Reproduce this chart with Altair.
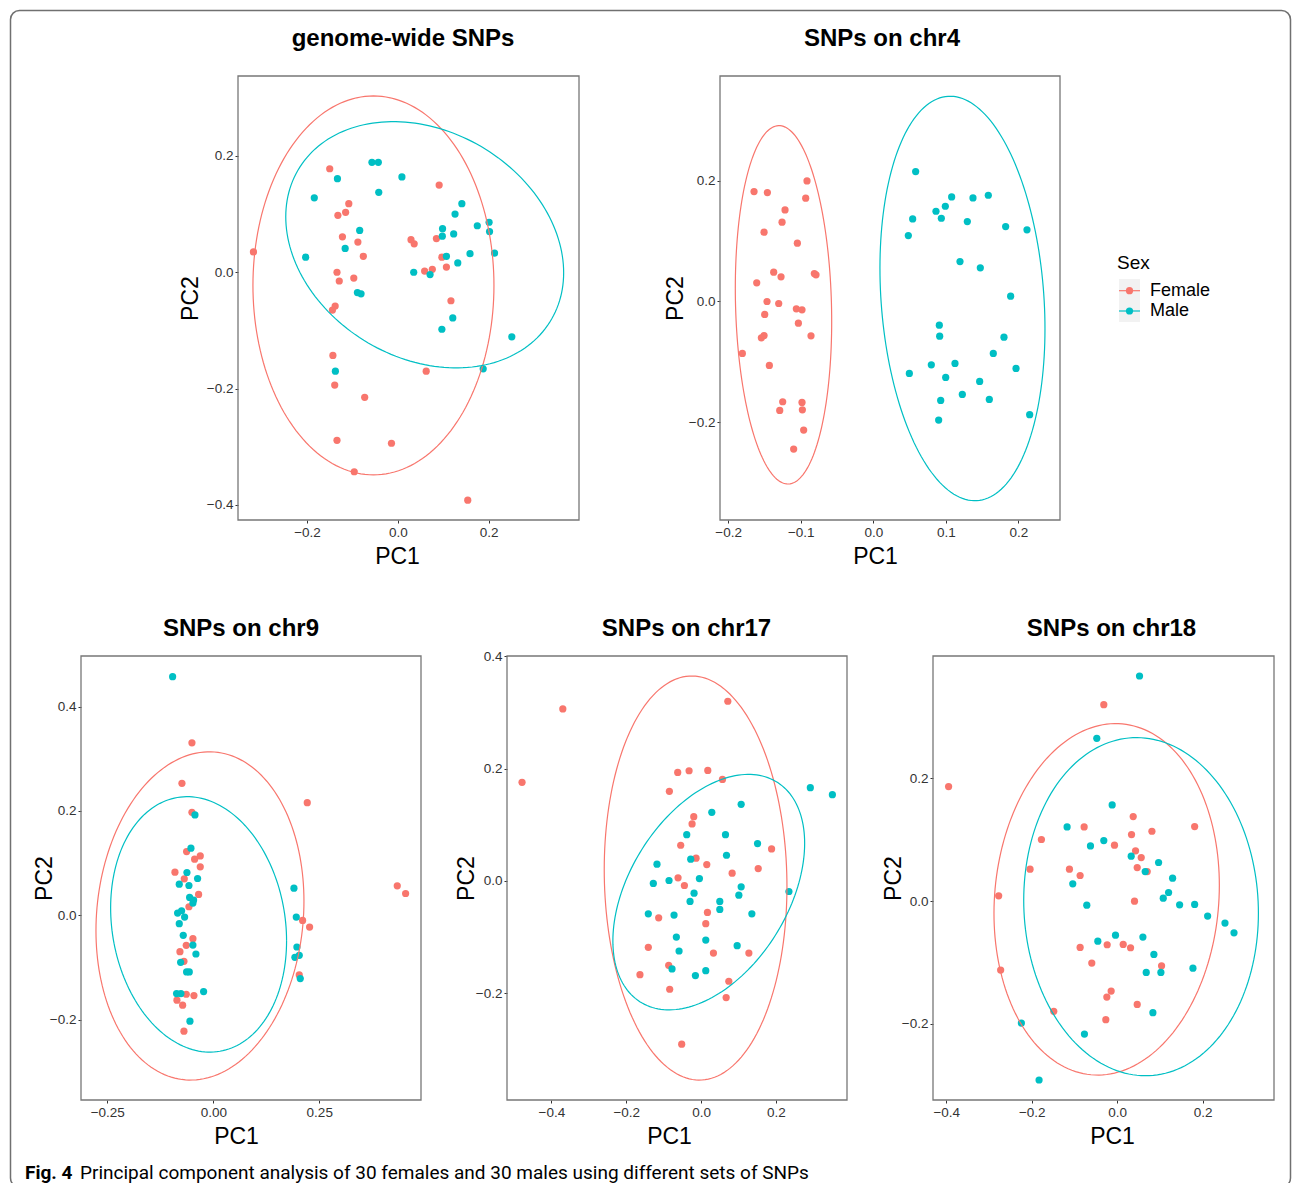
import numpy as np
import pandas as pd
import altair as alt

SEXES = ["Female", "Male"]
COLORS = ["#F8766D", "#00BFC4"]

# ---------------- genome-wide SNPs ----------------
GW_F_X = [-0.318, -0.150, -0.132, -0.115, -0.108, -0.122, -0.088, -0.076, -0.134, -0.129,
          -0.097, -0.138, -0.144, -0.143, -0.139, -0.073, -0.134, -0.014, -0.096, 0.154,
          0.029, 0.036, 0.059, 0.076, 0.085, 0.091, 0.097, 0.107, 0.117, 0.0625]
GW_F_Y = [0.035, 0.178, 0.098, 0.103, 0.118, 0.061, 0.052, 0.0275, 0.0, -0.015,
          -0.010, -0.058, -0.065, -0.143, -0.194, -0.215, -0.289, -0.294, -0.343, -0.392,
          0.056, 0.049, 0.002, 0.005, 0.058, 0.150, 0.026, 0.009, -0.049, -0.170]
GW_M_X = [-0.184, -0.133, -0.203, -0.116, -0.084, -0.089, -0.081, -0.1375, -0.057, -0.043,
          -0.042, 0.009, 0.035, 0.071, 0.0985, 0.098, 0.107, 0.123, 0.126, 0.141,
          0.132, 0.159, 0.175, 0.201, 0.202, 0.213, 0.097, 0.121, 0.251, 0.188]
GW_M_Y = [0.128, 0.161, 0.026, 0.041, 0.072, -0.035, -0.037, -0.170, 0.189, 0.189,
          0.1375, 0.164, 0.0, -0.004, 0.075, 0.062, 0.0275, 0.066, 0.100, 0.118,
          0.016, 0.032, 0.080, 0.086, 0.070, 0.033, -0.098, -0.0785, -0.111, -0.166]
# ellipse: centre x, centre y, half-width, half-height, skew
GW_ELL = {"Female": (-0.0537, -0.0226, 0.2654, 0.3258, 0.0),
          "Male": (0.0592, 0.0473, 0.306, 0.2117, -0.227)}

# ---------------- chr4 ----------------
C4_F_X = [-0.1644, -0.146, -0.0914, -0.0932, -0.1217, -0.1258, -0.1506, -0.1047, -0.1373, -0.1272,
          -0.0813, -0.0790, -0.1607, -0.1465, -0.1304, -0.1061, -0.0983, -0.1033, -0.1497, -0.1543,
          -0.1506, -0.0859, -0.1805, -0.1433, -0.1249, -0.129, -0.0983, -0.0978, -0.096, -0.1098]
C4_F_Y = [0.1823, 0.1807, 0.200, 0.1713, 0.1519, 0.1315, 0.1149, 0.0967, 0.0486, 0.0409,
          0.0464, 0.0442, 0.0309, 0.0, -0.0033, -0.0122, -0.0138, -0.0359, -0.0215, -0.0602,
          -0.0564, -0.0569, -0.0862, -0.1061, -0.1663, -0.1807, -0.1674, -0.1796, -0.2133, -0.2448]
C4_M_X = [0.0583, 0.0542, 0.0482, 0.0863, 0.0992, 0.0937, 0.1079, 0.1295, 0.1373, 0.1584,
          0.1823, 0.2117, 0.1194, 0.1474, 0.1892, 0.0909, 0.0914, 0.18, 0.1653, 0.0799,
          0.1125, 0.1966, 0.0496, 0.0997, 0.1465, 0.1226, 0.1598, 0.0928, 0.09, 0.2154]
C4_M_Y = [0.2155, 0.137, 0.1094, 0.1497, 0.158, 0.1381, 0.1735, 0.1326, 0.1718, 0.1762,
          0.1243, 0.1188, 0.0663, 0.0558, 0.0088, -0.0392, -0.0575, -0.0591, -0.0862, -0.105,
          -0.1028, -0.111, -0.1193, -0.126, -0.1326, -0.1541, -0.1624, -0.1641, -0.1967, -0.1878]
C4_ELL = {"Female": (-0.1238, -0.0055, 0.0664, 0.2972, -0.093),
          "Male": (0.1228, 0.005, 0.1137, 0.3354, -0.15)}

# ---------------- chr9 ----------------
C9_F_X = [-0.0503, -0.0739, 0.2217, -0.0503, -0.0629, -0.044, -0.0307, -0.0307, -0.0904, -0.0684,
          -0.0346, -0.0574, 0.2107, 0.2272, -0.048, -0.0637, -0.0786, -0.0692, 0.2028, -0.0637,
          -0.0456, -0.0857, -0.0723, -0.0692, 0.434, 0.4537]
C9_F_Y = [0.3306, 0.2529, 0.2159, 0.1975, 0.1223, 0.1076, 0.114, 0.093, 0.0828, 0.0701,
          0.0401, 0.0166, -0.0096, -0.0223, -0.0446, -0.0573, -0.0694, -0.0879, -0.114, -0.151,
          -0.1535, -0.1624, -0.172, -0.2217, 0.0567, 0.042]
C9_M_X = [-0.0959, -0.0432, -0.0527, -0.0621, -0.0802, -0.0574, -0.037, -0.0558, -0.0464, -0.048,
          -0.0841, -0.0747, -0.0676, -0.0802, -0.0708, -0.048, -0.0409, -0.077, -0.0629, -0.0566,
          -0.0865, -0.0763, -0.0228, -0.055, 0.1903, 0.1958, 0.1973, 0.1926, 0.2028, 0.2052]
C9_M_Y = [0.4573, 0.1924, 0.1287, 0.0822, 0.0599, 0.0573, 0.0707, 0.0344, 0.0293, 0.0236,
          0.0045, 0.0089, -0.0032, -0.0159, -0.0382, -0.0567, -0.0739, -0.0898, -0.1083, -0.1083,
          -0.1497, -0.1497, -0.1459, -0.2025, 0.0522, -0.0032, -0.0605, -0.0803, -0.0764, -0.121]
C9_ELL = {"Female": (-0.0314, -0.001, 0.2453, 0.3143, 0.09),
          "Male": (-0.0346, -0.0172, 0.2075, 0.2446, -0.129)}

# ---------------- chr17 ----------------
C17_F_X = [-0.4786, -0.3696, 0.0714, -0.0625, -0.0321, 0.0179, 0.0571, -0.0848, -0.0196, -0.0241,
           -0.0545, 0.1884, -0.0134, 0.0152, 0.083, 0.1527, -0.0616, -0.0446, 0.017, -0.1134,
           0.0125, -0.1411, 0.033, 0.1277, -0.0866, -0.1634, -0.0839, 0.0741, 0.067, -0.0518]
C17_F_Y = [0.1754, 0.3063, 0.3199, 0.1931, 0.1961, 0.1967, 0.1807, 0.1594, 0.1143, 0.1013,
           0.0634, 0.0569, 0.0403, 0.029, 0.0136, 0.0219, 0.0053, -0.0083, -0.0563, -0.0658,
           -0.0764, -0.1185, -0.1286, -0.1286, -0.1505, -0.1671, -0.1931, -0.1789, -0.2079, -0.2909]
C17_M_X = [0.292, 0.3509, 0.1071, 0.0286, -0.0384, 0.0652, 0.1509, 0.0679, -0.0277, -0.1179,
           -0.0857, -0.0045, -0.1277, 0.1071, -0.0188, 0.1009, 0.2348, -0.0295, 0.05, 0.05,
           -0.1411, -0.0723, 0.1357, -0.0661, 0.0125, -0.0589, 0.0964, -0.0777, -0.0152, 0.0125]
C17_M_Y = [0.1659, 0.1534, 0.1363, 0.122, 0.0823, 0.0823, 0.0664, 0.0456, 0.0385, 0.0296,
           0.0006, 0.0041, -0.0047, -0.0107, -0.0219, -0.0255, -0.019, -0.0367, -0.0367, -0.0509,
           -0.0587, -0.061, -0.0587, -0.1001, -0.1055, -0.125, -0.1155, -0.157, -0.1688, -0.16]
C17_ELL = {"Female": (-0.0147, 0.005, 0.2442, 0.3599, -0.042),
           "Male": (0.0205, -0.0201, 0.2563, 0.2097, 0.4146)}

# ---------------- chr18 ----------------
C18_F_X = [-0.3945, -0.0313, -0.1773, -0.2039, -0.2773, -0.2727, -0.1484, -0.0773, -0.1117, -0.0867,
           -0.0063, 0.0375, 0.0336, 0.0813, 0.1813, 0.043, 0.0563, 0.0469, 0.0703, 0.0406,
           -0.0867, -0.0234, 0.0141, 0.0313, -0.0594, 0.1039, -0.0141, -0.0242, 0.0469, -0.0266]
C18_F_Y = [0.1868, 0.3204, 0.1005, 0.0521, 0.0087, -0.1124, -0.1797, 0.1211, 0.0521, 0.0418,
           0.0912, 0.1379, 0.1086, 0.114, 0.1216, 0.082, 0.0711, 0.0548, 0.0483, 0.0,
           -0.0755, -0.0711, -0.0706, -0.076, -0.101, -0.1053, -0.1466, -0.1564, -0.1683, -0.1933]
C18_M_X = [0.0523, -0.0477, -0.0117, -0.1172, -0.0313, -0.0625, 0.0328, 0.0969, 0.0656, 0.1297,
           -0.1039, 0.1203, 0.1078, -0.0711, 0.1461, 0.1813, 0.2117, 0.2523, 0.2734, -0.0039,
           0.0602, -0.0453, 0.0859, 0.068, 0.1023, 0.1773, 0.0836, -0.2242, -0.0766, -0.1828]
C18_M_Y = [0.3671, 0.2655, 0.1569, 0.1211, 0.0988, 0.0901, 0.0733, 0.063, 0.0483, 0.0375,
           0.0282, 0.0141, 0.0049, -0.0065, -0.006, -0.0054, -0.0244, -0.0358, -0.0516, -0.0554,
           -0.0586, -0.0652, -0.0869, -0.1162, -0.1162, -0.1092, -0.1819, -0.1988, -0.2167, -0.2916]
C18_ELL = {"Female": (-0.0246, 0.003, 0.2637, 0.2865, 0.08),
           "Male": (0.0559, -0.009, 0.2746, 0.2756, -0.038)}

TITLES = ["genome-wide SNPs", "SNPs on chr4", "SNPs on chr9", "SNPs on chr17", "SNPs on chr18"]
CAPTION_BOLD = "Fig. 4"
CAPTION_TEXT = "Principal component analysis of 30 females and 30 males using different sets of SNPs"

FONT = "Liberation Sans"
W, H = 1293, 1183
color_scale = alt.Scale(domain=SEXES, range=COLORS)
one = alt.Data(values=[{"k": 0}])

# layout of the five panels on the page (pixel boxes: left, right, top, bottom)
BOXES = [(238, 579, 76, 520), (720, 1060, 76, 520),
         (81, 421, 656, 1100), (507, 847, 656, 1100), (933, 1274, 656, 1100)]
TITLE_POS = [(403, 45.7), (882, 45.7), (241, 636), (686.5, 636), (1111.5, 636)]
XTITLE_X = [397, 875, 236, 669, 1112]
YTITLE_DX = [-48, -45, -37, -41, -40]


def points_df(fx, fy, mx, my):
    return pd.DataFrame({
        "PC1": list(fx) + list(mx),
        "PC2": list(fy) + list(my),
        "Sex": ["Female"] * len(fx) + ["Male"] * len(mx),
    })


def ellipse_df(params):
    rows = []
    t = np.linspace(0, 2 * np.pi, 181)
    for sex, (cx, cy, rx, ry, s) in params.items():
        phi = np.arcsin(s)
        for i, tt in enumerate(t):
            rows.append({"PC1": cx + rx * np.cos(tt), "PC2": cy + ry * np.sin(tt + phi),
                         "Sex": sex, "i": i})
    return pd.DataFrame(rows)


def panel(k, fx, fy, mx, my, ell, xdom, ydom, xt, yt, xfmt, yfmt):
    left, right, top, bottom = BOXES[k]
    xs = alt.Scale(domain=xdom, range=[left, right], nice=False, zero=False)
    ys = alt.Scale(domain=ydom, range=[bottom, top], nice=False, zero=False)
    xax = alt.Axis(orient="bottom", offset=bottom - H, values=xt, format=xfmt, title="PC1",
                   titleX=XTITLE_X[k], titleY=36, titleBaseline="middle")
    yax = alt.Axis(orient="left", offset=-left, values=yt, format=yfmt, title="PC2",
                   titleX=YTITLE_DX[k], titleY=(top + bottom) / 2, titleBaseline="middle")
    pts = alt.Chart(points_df(fx, fy, mx, my)).mark_circle(size=52, opacity=1).encode(
        x=alt.X("PC1:Q", scale=xs, axis=xax),
        y=alt.Y("PC2:Q", scale=ys, axis=yax),
        color=alt.Color("Sex:N", scale=color_scale, legend=None),
    )
    lines = alt.Chart(ellipse_df(ell)).mark_line(strokeWidth=1.2).encode(
        x=alt.X("PC1:Q", scale=xs, axis=xax),
        y=alt.Y("PC2:Q", scale=ys, axis=yax),
        color=alt.Color("Sex:N", scale=color_scale, legend=None),
        detail="Sex:N",
        order="i:Q",
    )
    frame = alt.Chart(one).mark_rect(filled=False, stroke="#777777", strokeWidth=1.3).encode(
        x=alt.value(left), x2=alt.value(right), y=alt.value(top), y2=alt.value(bottom))
    tx, ty = TITLE_POS[k]
    title = alt.Chart(one).mark_text(font=FONT, fontSize=24, fontWeight="bold", color="black",
                                     align="center", baseline="alphabetic",
                                     text=TITLES[k]).encode(x=alt.value(tx), y=alt.value(ty))
    return alt.layer(frame, title, pts, lines)


panels = [
    panel(0, GW_F_X, GW_F_Y, GW_M_X, GW_M_Y, GW_ELL,
          [-0.352, 0.399], [-0.426, 0.3375], [-0.2, 0.0, 0.2], [-0.4, -0.2, 0.0, 0.2], ".1f", ".1f"),
    panel(1, C4_F_X, C4_F_Y, C4_M_X, C4_M_Y, C4_ELL,
          [-0.2113, 0.2572], [-0.3624, 0.374], [-0.2, -0.1, 0.0, 0.1, 0.2], [-0.2, 0.0, 0.2],
          ".1f", ".1f"),
    panel(2, C9_F_X, C9_F_Y, C9_M_X, C9_M_Y, C9_ELL,
          [-0.312, 0.49], [-0.3535, 0.4968], [-0.25, 0.0, 0.25], [-0.2, 0.0, 0.2, 0.4],
          ".2f", ".1f"),
    panel(3, C17_F_X, C17_F_Y, C17_M_X, C17_M_Y, C17_ELL,
          [-0.5188, 0.390], [-0.3904, 0.4005], [-0.4, -0.2, 0.0, 0.2], [-0.2, 0.0, 0.2, 0.4],
          ".1f", ".1f"),
    panel(4, C18_F_X, C18_F_Y, C18_M_X, C18_M_Y, C18_ELL,
          [-0.431, 0.367], [-0.3242, 0.3997], [-0.4, -0.2, 0.0, 0.2], [-0.2, 0.0, 0.2, 0.4],
          ".1f", ".1f"),
]

# ---------------- legend ----------------
leg_df = pd.DataFrame({"Sex": SEXES})
leg_y = alt.Y("Sex:N", scale=alt.Scale(type="point", domain=SEXES, range=[290.7, 311.0], padding=0),
              axis=None)
leg_bg = alt.Chart(one).mark_rect(color="#F2F2F2").encode(
    x=alt.value(1119), x2=alt.value(1140), y=alt.value(279), y2=alt.value(322))
leg_rule = alt.Chart(leg_df).mark_rule(strokeWidth=1.2).encode(
    x=alt.value(1119), x2=alt.value(1140), y=leg_y,
    color=alt.Color("Sex:N", scale=color_scale, legend=None))
leg_pt = alt.Chart(leg_df).mark_circle(size=52, opacity=1).encode(
    x=alt.value(1129.5), y=leg_y,
    color=alt.Color("Sex:N", scale=color_scale, legend=None))
leg_txt = alt.Chart(leg_df).mark_text(align="left", baseline="middle", font=FONT, fontSize=18,
                                      color="black").encode(
    x=alt.value(1150), y=leg_y, text="Sex:N")
leg_title = alt.Chart(one).mark_text(align="left", baseline="middle", font=FONT, fontSize=19,
                                     color="black", text="Sex").encode(
    x=alt.value(1117), y=alt.value(263))
legend = alt.layer(leg_bg, leg_rule, leg_pt, leg_txt, leg_title)

# ---------------- caption and figure frame ----------------
border = alt.Chart(one).mark_rect(filled=False, stroke="#707070", strokeWidth=1.5,
                                  cornerRadius=9).encode(
    x=alt.value(10.5), x2=alt.value(1290.5), y=alt.value(10.5), y2=alt.value(1187))
cap_b = alt.Chart(one).mark_text(align="left", baseline="alphabetic", font="Roboto", fontSize=19,
                                 fontWeight="bold", color="black", text=CAPTION_BOLD).encode(
    x=alt.value(25), y=alt.value(1178.5))
cap_t = alt.Chart(one).mark_text(align="left", baseline="alphabetic", font="Roboto", fontSize=19,
                                 color="black", text=CAPTION_TEXT).encode(
    x=alt.value(80), y=alt.value(1178.5))

chart = alt.layer(border, *panels, legend, cap_b, cap_t).resolve_scale(
    x="independent", y="independent"
).properties(
    width=W, height=H,
    autosize=alt.AutoSizeParams(type="none"),
    padding=0,
    background="white",
).configure_axis(
    labelFont=FONT, labelFontSize=13.5, labelColor="#333333", labelPadding=2,
    tickColor="#333333", tickSize=3, tickWidth=1,
    domain=False, grid=False, labelFlush=False,
    titleFont=FONT, titleFontSize=23, titleFontWeight="normal", titleColor="black",
).configure_view(stroke="transparent")

chart.save("out.html", embed_options={"renderer": "svg", "actions": False})
